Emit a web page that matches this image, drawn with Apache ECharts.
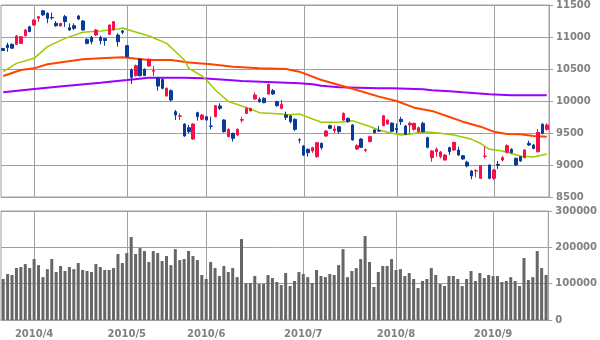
<!DOCTYPE html>
<html><head><meta charset="utf-8">
<script src="https://cdn.jsdelivr.net/npm/echarts@6/dist/echarts.min.js"></script>
<style>html,body{margin:0;padding:0;background:#fff}#c{width:600px;height:340px}</style>
</head><body><div id="c"></div>
<script>
const dates = [
'2010/3/23','2010/3/24','2010/3/25','2010/3/26','2010/3/29','2010/3/30','2010/3/31',
'2010/4/1','2010/4/2','2010/4/5','2010/4/6','2010/4/7','2010/4/8','2010/4/9','2010/4/12','2010/4/13','2010/4/14','2010/4/15','2010/4/16','2010/4/19','2010/4/20','2010/4/21','2010/4/22','2010/4/23','2010/4/26','2010/4/27','2010/4/28','2010/4/30',
'2010/5/6','2010/5/7','2010/5/10','2010/5/11','2010/5/12','2010/5/13','2010/5/14','2010/5/17','2010/5/18','2010/5/19','2010/5/20','2010/5/21','2010/5/24','2010/5/25','2010/5/26','2010/5/27','2010/5/28','2010/5/31',
'2010/6/1','2010/6/2','2010/6/3','2010/6/4','2010/6/7','2010/6/8','2010/6/9','2010/6/10','2010/6/11','2010/6/14','2010/6/15','2010/6/16','2010/6/17','2010/6/18','2010/6/21','2010/6/22','2010/6/23','2010/6/24','2010/6/25','2010/6/28','2010/6/29','2010/6/30',
'2010/7/1','2010/7/2','2010/7/5','2010/7/6','2010/7/7','2010/7/8','2010/7/9','2010/7/12','2010/7/13','2010/7/14','2010/7/15','2010/7/16','2010/7/20','2010/7/21','2010/7/22','2010/7/23','2010/7/26','2010/7/27','2010/7/28','2010/7/29','2010/7/30',
'2010/8/2','2010/8/3','2010/8/4','2010/8/5','2010/8/6','2010/8/9','2010/8/10','2010/8/11','2010/8/12','2010/8/13','2010/8/16','2010/8/17','2010/8/18','2010/8/19','2010/8/20','2010/8/23','2010/8/24','2010/8/25','2010/8/26','2010/8/27','2010/8/30','2010/8/31',
'2010/9/1','2010/9/2','2010/9/3','2010/9/6','2010/9/7','2010/9/8','2010/9/9','2010/9/10','2010/9/13','2010/9/14','2010/9/15','2010/9/16','2010/9/17'
];
// [open, close, low, high]
const ohlc = [
[10820,10790,10780,10830],[10875,10835,10770,10910],[10885,10825,10815,10900],[10885,11015,10875,11030],[10900,11005,10895,11010],[11020,11110,11005,11125],[11160,11085,11075,11175],
[11188,11265,11175,11280],[11292,11318,11240,11320],[11410,11345,11330,11420],[11370,11292,11215,11385],[11305,11300,11270,11380],[11213,11175,11160,11250],[11172,11213,11165,11220],[11318,11240,11160,11345],[11146,11110,11094,11213],[11177,11135,11110,11213],[11328,11281,11265,11344],[11250,11110,11100,11265],[10963,10900,10885,10980],[10995,10927,10885,11015],[11031,11110,11015,11125],[10995,10943,10885,11020],[10975,10945,10865,10979],[11042,11187,11031,11198],[11120,11240,11094,11250],[11031,10927,10850,11057],[11094,11073,11042,11110],
[10865,10693,10680,10875],[10484,10370,10266,10510],[10396,10550,10380,10570],[10656,10396,10380,10667],[10495,10396,10390,10510],[10547,10651,10536,10667],[10465,10475,10390,10547],[10354,10234,10161,10370],[10338,10198,10182,10354],[10078,10198,10068,10213],[10161,10016,9990,10182],[9833,9781,9703,9860],[9760,9768,9703,9807],[9641,9453,9443,9651],[9583,9521,9495,9625],[9406,9641,9391,9651],[9818,9755,9693,9833],[9714,9781,9703,9797],
[9755,9703,9688,9765],[9610,9605,9557,9755],[9755,9927,9745,9937],[9922,9885,9860,9963],[9703,9521,9505,9714],[9443,9557,9432,9573],[9495,9417,9365,9505],[9469,9557,9453,9573],[9700,9710,9661,9755],[9807,9885,9797,9911],[9845,9885,9840,9890],[10031,10094,10016,10130],[10026,9990,9974,10057],[10042,9974,9964,10057],[10109,10260,10099,10276],[10161,10109,10099,10188],[9990,9927,9911,10005],[9885,9948,9870,10016],[9781,9745,9703,9833],[9766,9677,9651,9781],[9714,9557,9531,9729],[9395,9390,9339,9417],
[9297,9156,9140,9310],[9245,9193,9130,9260],[9219,9271,9190,9286],[9130,9349,9115,9360],[9339,9271,9240,9350],[9453,9531,9440,9547],[9615,9573,9557,9630],[9536,9562,9500,9615],[9599,9521,9490,9610],[9703,9807,9690,9820],[9729,9677,9660,9740],[9625,9391,9380,9640],[9250,9302,9235,9320],[9406,9276,9265,9420],[9229,9237,9200,9255],[9365,9443,9355,9455],[9547,9505,9490,9560],[9536,9530,9515,9610],[9615,9771,9605,9780],[9641,9703,9630,9715],[9655,9526,9515,9665],
[9573,9552,9495,9651],[9714,9677,9625,9755],[9609,9479,9469,9625],[9625,9651,9495,9677],[9557,9651,9537,9661],[9521,9583,9510,9599],[9651,9521,9505,9677],[9427,9276,9260,9443],[9115,9219,9052,9234],[9208,9245,9130,9276],[9130,9203,9104,9219],[9078,9156,9068,9172],[9271,9208,9156,9287],[9234,9354,9220,9365],[9234,9156,9141,9287],[9146,9094,9078,9156],[9042,8984,8963,9068],[8906,8828,8776,8922],[8906,8911,8807,8932],[8792,8990,8781,9000],[9135,9140,9104,9287],[9000,8792,8776,9010],
[8792,8922,8766,8937],[9010,8995,8938,9063],[9078,9115,9052,9141],[9198,9302,9182,9323],[9245,9193,9182,9260],[9104,9000,8984,9115],[9130,9063,9052,9141],[9115,9234,9104,9245],[9338,9312,9297,9380],[9312,9260,9245,9328],[9208,9510,9193,9563],[9636,9495,9479,9651],[9557,9625,9537,9651]
];
const volumes = [
112800,126500,123800,143000,145800,154000,143000,
167800,151000,118000,140000,167800,132000,148600,134800,145800,140000,156800,137600,134800,132000,154000,145800,137600,137600,143000,181600,156800,
184300,228300,181600,198000,189800,159600,189800,184300,162300,176000,151000,195000,165000,167800,189800,176000,165000,123800,
112800,159600,143000,121000,148600,132000,143000,118000,222800,100900,101800,121000,99000,99000,123800,115500,104500,96300,129300,93500,107300,132000,
126500,118000,101800,137600,121000,118000,126500,123800,151000,195000,118000,134800,143000,167800,231000,159600,90800,132000,148600,148600,167800,
137600,140000,121000,129300,112800,88000,107300,112800,143000,123800,99000,93500,121000,121000,112800,93500,112800,134800,107300,129300,115500,123800,
121000,121000,104500,107300,118000,107300,93500,170600,110000,118000,189800,143000,123800
];
// moving averages: [category index, value]
const maShort = [[0,10458],[3,10588],[7,10667],[10,10849],[14,10979],[18,11073],[22,11094],[26,11125],[27,11140],[29,11099],[33,11016],[37,10901],[41,10641],[42,10510],[45,10391],[46,10328],[48,10172],[51,9990],[54,9922],[56,9870],[58,9818],[63,9797],[65,9786],[67,9797],[68,9771],[70,9719],[72,9667],[76,9667],[79,9693],[82,9625],[85,9547],[88,9495],[90,9469],[92,9479],[95,9521],[98,9505],[102,9469],[106,9401],[108,9339],[110,9245],[113,9219],[117,9141],[120,9125],[123,9172]];
const maMid = [[0,10391],[4,10484],[7,10510],[10,10573],[14,10615],[18,10651],[22,10667],[27,10682],[33,10641],[38,10641],[42,10600],[47,10573],[52,10536],[58,10510],[64,10500],[67,10458],[72,10328],[76,10250],[80,10172],[85,10068],[89,10000],[93,9896],[97,9845],[101,9750],[104,9677],[108,9599],[111,9521],[114,9484],[117,9479],[120,9453],[123,9443]];
const maLong = [[0,10135],[7,10188],[14,10234],[22,10287],[28,10328],[33,10365],[41,10365],[45,10354],[51,10328],[54,10313],[67,10276],[70,10260],[72,10240],[76,10214],[85,10198],[88,10198],[95,10182],[97,10167],[101,10151],[104,10135],[107,10120],[110,10104],[115,10089],[123,10089]];
const monthTickLabels = ['2010/4', '2010/5', '2010/6', '2010/7', '2010/8', '2010/9'];
const priceTicks = {min: 8500, max: 11500, step: 500};
const volumeTicks = {min: 0, max: 300000, step: 100000};

const monthIdx = monthTickLabels.map(m => dates.findIndex(d => d.indexOf(m + '/') === 0));
const isMonthStart = (i) => monthIdx.indexOf(Number(i)) >= 0;
const monthLabel = v => { const p = String(v).split('/'); return p[0] + '/' + p[1]; };
const toPts = arr => arr.map(p => [dates[p[0]], p[1]]);
const plain = v => String(v);

const gridColor = '#a0a0a0';
const labelStyle = {color: '#808080', fontWeight: 'bold', fontSize: 10, fontFamily: 'DejaVu Sans'};

const chart = echarts.init(document.getElementById('c'), null, {renderer: 'canvas'});
chart.setOption({
  animation: false,
  backgroundColor: '#fff',
  grid: [
    {left: 1, top: 5, width: 548, height: 192, show: true, backgroundColor: 'transparent', borderColor: gridColor, borderWidth: 1},
    {left: 1, top: 211, width: 548, height: 109, show: true, backgroundColor: 'transparent', borderColor: gridColor, borderWidth: 1}
  ],
  xAxis: [
    {type: 'category', gridIndex: 0, data: dates, boundaryGap: true,
     axisLine: {show: false}, axisTick: {show: false}, axisLabel: {show: false}, splitLine: {show: false}},
    {type: 'category', gridIndex: 1, data: dates, boundaryGap: true,
     axisLine: {show: true, lineStyle: {color: gridColor}}, axisTick: {show: false}, splitLine: {show: false},
     axisLabel: Object.assign({interval: isMonthStart, formatter: monthLabel, margin: 9}, labelStyle)}
  ],
  yAxis: [
    {type: 'value', gridIndex: 0, position: 'right', min: priceTicks.min, max: priceTicks.max, interval: priceTicks.step,
     axisLine: {show: true, lineStyle: {color: gridColor, width: 1}},
     axisTick: {show: true, length: 4, lineStyle: {color: gridColor}},
     axisLabel: Object.assign({margin: 7, formatter: plain}, labelStyle),
     splitLine: {show: true, lineStyle: {color: gridColor, width: 1}}},
    {type: 'value', gridIndex: 1, position: 'right', min: volumeTicks.min, max: volumeTicks.max, interval: volumeTicks.step,
     axisLine: {show: true, lineStyle: {color: gridColor, width: 1}},
     axisTick: {show: true, length: 4, lineStyle: {color: gridColor}},
     axisLabel: Object.assign({margin: 7, formatter: plain}, labelStyle),
     splitLine: {show: true, lineStyle: {color: gridColor, width: 1}}}
  ],
  series: [
    {type: 'line', xAxisIndex: 0, yAxisIndex: 0, data: toPts(maLong), showSymbol: false, z: 5,
     lineStyle: {color: '#9900ff', width: 2}},
    {type: 'line', xAxisIndex: 0, yAxisIndex: 0, data: toPts(maMid), showSymbol: false, z: 5,
     lineStyle: {color: '#ff4400', width: 2}},
    {type: 'line', xAxisIndex: 0, yAxisIndex: 0, data: toPts(maShort), showSymbol: false, z: 5,
     lineStyle: {color: '#99cc00', width: 1.5}},
    {type: 'candlestick', xAxisIndex: 0, yAxisIndex: 0, data: ohlc, barWidth: 3, z: 6,
     itemStyle: {color: '#f5104a', color0: '#0a3a98', borderColor: '#f5104a', borderColor0: '#0a3a98', borderWidth: 1}},
    {type: 'bar', xAxisIndex: 1, yAxisIndex: 1, data: volumes, barWidth: 3, z: 5,
     itemStyle: {color: '#666666'}}
  ]
});

// vertical month grid lines: x from the chart's own category scale, drawn as graphic lines
const vLines = [];
let problem = '';
[[0, priceTicks], [1, volumeTicks]].forEach(([g, t]) => {
  const top = chart.convertToPixel({xAxisIndex: g, yAxisIndex: g}, [dates[0], t.max]);
  const bot = chart.convertToPixel({xAxisIndex: g, yAxisIndex: g}, [dates[0], t.min]);
  monthIdx.forEach(i => {
    const p = chart.convertToPixel({xAxisIndex: g, yAxisIndex: g}, [dates[i], t.min]);
    const x = Math.round(Number(p && p[0])) + 0.5;
    if (!isFinite(x) || !top || !bot) { problem = 'idx' + i + ':' + JSON.stringify(p); return; }
    vLines.push({type: 'rect', silent: true, z: 1,
      shape: {x: x - 0.5, y: top[1], width: 1, height: bot[1] - top[1]},
      style: {fill: '#a0a0a0'}});
  });
});
if (monthIdx.length === 0 || monthIdx.indexOf(-1) >= 0) problem += ' m' + monthIdx.join(',');
if (problem) vLines.push({type: 'text', z: 10, left: 552, top: 326, style: {text: problem.slice(0, 14), fill: '#c00', fontSize: 8}});
chart.setOption({graphic: {elements: vLines}});
</script></body></html>
